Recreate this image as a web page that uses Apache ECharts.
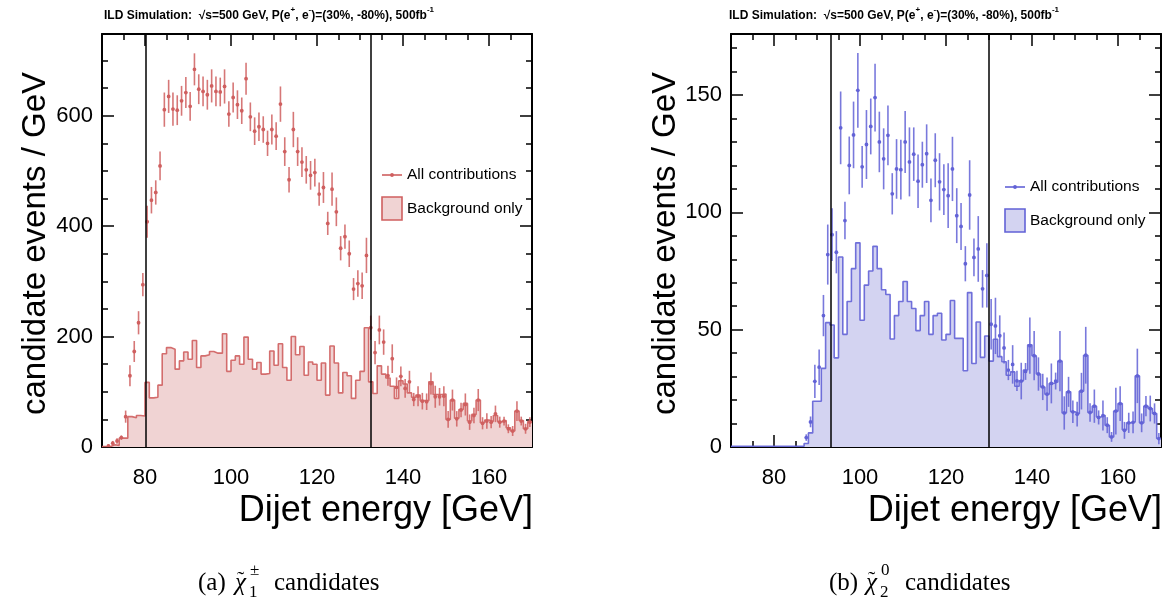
<!DOCTYPE html>
<html>
<head>
<meta charset="utf-8">
<script src="https://cdn.jsdelivr.net/npm/echarts@6/dist/echarts.min.js"></script>
<style>
  html, body { margin: 0; padding: 0; background: #fff; }
  #chart { width: 1172px; height: 602px; }
</style>
</head>
<body>
<div id="chart"></div>
<script>
// 1 GeV bins from 70 to 170 GeV (100 bins)
const xMajor = [80, 100, 120, 140, 160];

// (a) chargino candidates
const leftAllEvents = [
  null, 2, 7, 11, 17, 55, 129, 173, 225, 294,
  408, 447, 461, 509, 611, 635, 612, 610, 627, 642,
  617, 684, 648, 644, 638, 654, 644, 643, 653, 603,
  633, 620, 609, 667, 598, 572, 580, 575, 550, 575,
  563, 621, 535, 484, 575, 535, 516, 502, 492, 497,
  458, 470, 405, 467, 426, 360, 381, 350, 286, 296,
  292, 347, 216, 171, 212, 190, 129, 160, 108, 128,
  106, 118, 86, 92, 83, 82, 115, 91, 91, 92,
  50, 85, 51, 67, 77, 45, 57, 85, 43, 47,
  45, 60, 45, 47, 33, 29, 65, 47, 33, 45
];
const leftAllErr = [
  0, 3, 4, 5, 4, 11, 19, 19, 21, 21,
  29, 24, 22, 26, 31, 30, 30, 27, 27, 28,
  26, 29, 27, 27, 27, 30, 27, 26, 31, 23,
  27, 26, 24, 29, 26, 25, 26, 24, 23, 27,
  25, 32, 26, 23, 32, 26, 27, 25, 26, 25,
  21, 28, 21, 30, 26, 22, 22, 24, 20, 24,
  24, 32, 22, 21, 26, 23, 18, 26, 18, 18,
  17, 20, 12, 18, 15, 15, 20, 20, 16, 18,
  15, 19, 14, 13, 20, 14, 14, 20, 11, 14,
  11, 15, 10, 8, 8, 9, 18, 8, 9, 9
];
const leftBkgOnly = [
  1, 1, 4, 3, 16, 16, 55, 53, 57, 56,
  117, 89, 90, 112, 169, 180, 177, 141, 156, 172,
  159, 193, 144, 165, 167, 173, 170, 170, 205, 137,
  157, 165, 150, 199, 159, 141, 153, 132, 133, 174,
  148, 187, 144, 121, 200, 167, 182, 130, 154, 150,
  121, 152, 94, 183, 152, 98, 135, 129, 88, 121,
  137, 216, 118, 97, 147, 132, 125, 110, 88, 120,
  114, 98, 90, 94, 84, 84, 118, 95, 95, 96,
  50, 85, 52, 68, 79, 47, 59, 85, 44, 49,
  46, 57, 46, 48, 35, 29, 65, 48, 33, 46
];
const leftCuts = [80.2, 132.4];

// (b) neutralino candidates
const rightAllEvents = [
  null, null, null, null, null, null, null, null, null, null,
  null, null, null, null, null, null, null, 4, 10.7, 28,
  34, 56, 82, 90.5, 83, 136, 96.5, 120, 133, 152,
  119.4, 128.9, 136.6, 148.9, 130, 122.8, 132.8, 107.9, 118.5, 118.2,
  130, 121.5, 124.8, 113.3, 120.3, 125, 105.1, 122.2, 113, 109.7,
  107.1, 118.5, 98.6, 94, 78.1, 107.4, 80.8, 84.4, 67.4, 73.1,
  52.3, 51.6, 47.4, 42.2, 32.8, 35.2, 28.2, 28.1, 32.2, 43.2,
  38.9, 31.1, 25.6, 22.5, 27.1, 28.1, 36.6, 14.5, 23.5, 15,
  14, 23.8, 39.1, 14.7, 17.4, 12.6, 13.4, 9.3, 4.3, 15.3,
  18.5, 7.1, 10.3, 10.5, 30.3, 10.3, 17.4, 16.4, 14.3, 3.6
];
const rightAllErr = [
  0, 0, 0, 0, 0, 0, 0, 0, 0, 0,
  0, 0, 0, 0, 0, 0, 0, 1.4, 2.3, 7.1,
  7.6, 8.8, 12.8, 11.2, 9, 15.5, 8, 12.3, 14.2, 15.9,
  8.9, 14.7, 11.9, 14.4, 12.9, 13, 12.7, 8.8, 12.7, 12.7,
  13.2, 14.7, 11.4, 11.4, 9.8, 12.5, 9.3, 11.5, 12.2, 10.8,
  13.8, 13.7, 11.7, 10, 7.5, 14.8, 8, 14, 8, 13.7,
  10.8, 12, 8.7, 6.6, 4.3, 8.2, 4.3, 7.8, 3.6, 12,
  10.5, 7.1, 5.6, 7.1, 8.5, 3.6, 12.8, 7.1, 6.4, 4.8,
  5.3, 7.8, 12.1, 3.9, 7.1, 3, 6.4, 3.4, 2.1, 10,
  7.4, 3.6, 4.3, 4.6, 11.6, 4, 4.3, 5.5, 4.3, 2.4
];
const rightBkgOnly = [
  0.3, 0.3, 0.3, 0.3, 0.3, 0.3, 0.3, 0.3, 0.3, 0.3,
  0.3, 0.3, 0.3, 0.3, 0.3, 0.3, 0.3, 1.5, 6, 19.5,
  19.5, 33.5, 53, 52, 38, 81, 48, 62, 76, 87,
  54, 69, 75, 85.5, 76, 67, 65, 46, 56, 62,
  70.5, 62, 59, 49.6, 56, 62, 48, 56, 57, 45.6,
  48, 62.4, 46.3, 46.3, 32.5, 65.8, 35.6, 53.3, 38.2, 47.3,
  36.6, 45.9, 38.5, 36.3, 30.6, 32, 25.9, 28.2, 32.8, 43.5,
  38.9, 31.1, 25.6, 22.5, 27.1, 27.7, 36.6, 14.5, 23.5, 15,
  14.2, 23.8, 39.1, 14.7, 17.4, 12.8, 13.5, 9.3, 4.3, 15.3,
  18.5, 7.4, 10.3, 10.7, 30.3, 10.3, 17.4, 16.4, 14.3, 3.6
];
const rightCuts = [93.1, 130];

const RED = '#cf5f5f', RED_FILL = '#f0d3d3';
const BLUE = '#6262d6', BLUE_FILL = '#d3d3f1';
const FONT = 'Liberation Sans, Arial, sans-serif';
const SERIF = 'Liberation Serif, Times New Roman, serif';

// histogram: one point per lower bin edge, last one closes the final bin
function stepData(vals) {
  const d = vals.map((v, i) => [70 + i, v]);
  d.push([170, vals[vals.length - 1]]);
  return d;
}
function pointData(vals, errs) {
  const d = [];
  vals.forEach((v, i) => { if (v !== null) d.push([70 + i + 0.5, v, errs[i]]); });
  return d;
}

const tickStyle = { color: '#000', width: 1.5 };
function xAxes(grid) {
  const base = { type: 'value', gridIndex: grid, min: 70, max: 170, interval: 5, splitLine: { show: false } };
  const minor = pos => Object.assign({}, base, {
    position: pos,
    axisLine: { show: true, onZero: false, lineStyle: { color: '#000', width: 2 } },
    axisTick: { inside: true, length: 6, lineStyle: tickStyle },
    axisLabel: { show: false }
  });
  const major = (pos, labels) => Object.assign({}, base, {
    position: pos,
    axisLine: { show: false, onZero: false },
    axisTick: { inside: true, length: 12, customValues: xMajor, lineStyle: tickStyle },
    axisLabel: labels
      ? { customValues: xMajor, margin: 20, fontSize: 22, color: '#000', fontFamily: FONT }
      : { show: false }
  });
  return [major('bottom', true), minor('bottom'), minor('top'), major('top', false)];
}
function yAxes(grid, max, majorStep, minorStep) {
  const base = { type: 'value', gridIndex: grid, min: 0, max: max, splitLine: { show: false } };
  const minor = pos => Object.assign({}, base, {
    position: pos, interval: minorStep,
    axisLine: { show: true, onZero: false, lineStyle: { color: '#000', width: 2 } },
    axisTick: { inside: true, length: 6, lineStyle: tickStyle },
    axisLabel: { show: false }
  });
  const major = (pos, labels) => Object.assign({}, base, {
    position: pos, interval: majorStep,
    axisLine: { show: false, onZero: false },
    axisTick: { inside: true, length: 12, lineStyle: tickStyle },
    axisLabel: labels
      ? { margin: 9, fontSize: 22, color: '#000', fontFamily: FONT, showMaxLabel: false }
      : { show: false }
  });
  return [major('left', true), minor('left'), minor('right'), major('right', false)];
}

function bkgSeries(axisIdx, vals, color, fill, cuts) {
  return {
    type: 'line', xAxisIndex: axisIdx, yAxisIndex: axisIdx, step: 'end',
    symbol: 'none', silent: true, z: 2,
    data: stepData(vals),
    lineStyle: { color: color, width: 1.6, opacity: 0.9 },
    areaStyle: { color: fill, opacity: 1, origin: 'start' },
    markLine: {
      silent: true, symbol: 'none', label: { show: false },
      lineStyle: { color: '#000', width: 1.5, type: 'solid' },
      data: cuts.map(c => ({ xAxis: c }))
    }
  };
}
function pointSeries(axisIdx, vals, errs, color) {
  return {
    type: 'custom', xAxisIndex: axisIdx, yAxisIndex: axisIdx, z: 3, clip: true, silent: true,
    data: pointData(vals, errs),
    encode: { x: 0, y: 1 },
    renderItem: (params, api) => {
      const x = api.value(0), y = api.value(1), e = api.value(2);
      const p = api.coord([x, y]);
      const lo = api.coord([x, y - e]);
      const hi = api.coord([x, y + e]);
      return {
        type: 'group',
        children: [
          { type: 'line', shape: { x1: p[0], y1: lo[1], x2: p[0], y2: hi[1] },
            style: { stroke: color, lineWidth: 1.6, opacity: 0.85 } },
          { type: 'circle', shape: { cx: p[0], cy: p[1], r: 1.9 }, style: { fill: color } }
        ]
      };
    }
  };
}

function header(x) {
  return {
    type: 'text', left: x, top: 6,
    style: {
      text: '{b|ILD Simulation:  √s=500 GeV, P(e}{s|+}{b|, e}{s|-}{b|)=(30%, -80%), 500fb}{s|-1}',
      fontFamily: FONT,
      rich: {
        b: { fontSize: 12, fontWeight: 'bold', fontFamily: FONT, lineHeight: 16, verticalAlign: 'bottom' },
        s: { fontSize: 8, fontWeight: 'bold', fontFamily: FONT, lineHeight: 16, verticalAlign: 'top' }
      }
    }
  };
}
function legend(x, y1, color, fill) {
  return [
    { type: 'line', shape: { x1: x, y1: y1, x2: x + 20, y2: y1 }, style: { stroke: color, lineWidth: 1.6 } },
    { type: 'circle', shape: { cx: x + 10, cy: y1, r: 1.9 }, style: { fill: color } },
    { type: 'text', x: x + 25, y: y1, style: { text: 'All contributions', fontSize: 15.5, fontFamily: FONT, fill: '#000', textVerticalAlign: 'middle' } },
    { type: 'rect', shape: { x: x, y: y1 + 22, width: 20, height: 23 }, style: { fill: fill, stroke: color, lineWidth: 1.6 } },
    { type: 'text', x: x + 25, y: y1 + 34, style: { text: 'Background only', fontSize: 15.5, fontFamily: FONT, fill: '#000', textVerticalAlign: 'middle' } }
  ];
}
function yTitle(x) {
  return { type: 'text', x: x, y: 72, rotation: Math.PI / 2,
    style: { text: 'candidate events / GeV', fontSize: 33, fontFamily: FONT, fill: '#000', textAlign: 'right', textVerticalAlign: 'middle' } };
}
function xTitle(x) {
  return { type: 'text', x: x, y: 511,
    style: { text: 'Dijet energy [GeV]', fontSize: 36, fontFamily: FONT, fill: '#000', textAlign: 'right', textVerticalAlign: 'middle' } };
}
// caption: "(a) χ̃ with stacked super/subscript, then 'candidates'"
function caption(x, tag, sup, sub) {
  const t = (px, py, s, size, extra) => ({ type: 'text', x: px, y: py,
    style: Object.assign({ text: s, fontSize: size, fontFamily: SERIF, fill: '#000', textVerticalAlign: 'middle' }, extra || {}) });
  return [
    t(x, 583, tag, 25),
    t(x + 37, 583, 'χ', 25, { fontStyle: 'italic' }),
    t(x + 39, 580, '˜', 22),
    t(x + 52, 571, sup, 17),
    t(x + 51, 593, sub, 17),
    t(x + 76, 583, 'candidates', 25)
  ];
}

const chart = echarts.init(document.getElementById('chart'));
const option = {
  animation: false,
  backgroundColor: '#fff',
  grid: [
    { left: 102, top: 34, width: 430, height: 413 },
    { left: 731, top: 34, width: 430, height: 413 }
  ],
  xAxis: xAxes(0).concat(xAxes(1)),
  yAxis: yAxes(0, 748, 200, 50).concat(yAxes(1, 176, 50, 10)),
  series: [
    bkgSeries(0, leftBkgOnly, RED, RED_FILL, leftCuts),
    pointSeries(0, leftAllEvents, leftAllErr, RED),
    bkgSeries(4, rightBkgOnly, BLUE, BLUE_FILL, rightCuts),
    pointSeries(4, rightAllEvents, rightAllErr, BLUE)
  ],
  graphic: [
    header(104), header(729),
    ...legend(382, 175, RED, RED_FILL),
    ...legend(1005, 187, BLUE, BLUE_FILL),
    yTitle(36), yTitle(666),
    xTitle(533), xTitle(1162),
    ...caption(198, '(a)', '±', '1'),
    ...caption(829, '(b)', '0', '2')
  ]
};
chart.setOption(option);
</script>
</body>
</html>
